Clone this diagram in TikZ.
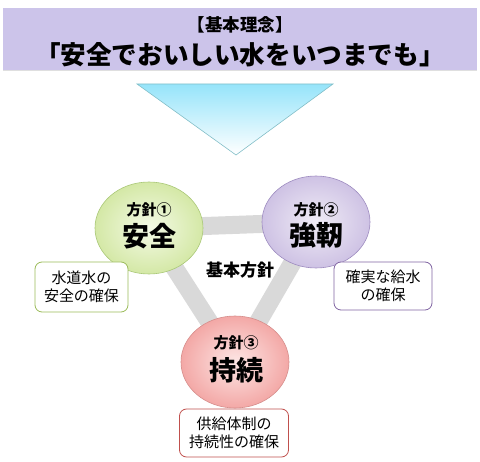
\documentclass[tikz,border=0pt]{standalone}
\usepackage{fontspec}
\newfontfamily\jpfont{Noto Sans CJK JP}
\usetikzlibrary{shapes.geometric,positioning,backgrounds,shadows}

\definecolor{bannerfill}{RGB}{204,196,234}
\definecolor{arrowtop}{RGB}{150,228,250}
\definecolor{arrowline}{RGB}{130,190,200}
\definecolor{bandgray}{RGB}{217,217,217}
\definecolor{greenin}{RGB}{244,250,230}
\definecolor{greenout}{RGB}{212,232,166}
\definecolor{greenline}{RGB}{170,200,120}
\definecolor{purplein}{RGB}{240,236,246}
\definecolor{purpleout}{RGB}{206,194,228}
\definecolor{purpleline}{RGB}{158,140,192}
\definecolor{redin}{RGB}{253,230,229}
\definecolor{redout}{RGB}{243,168,166}
\definecolor{redline}{RGB}{214,142,140}
\definecolor{greenbox}{RGB}{155,187,89}
\definecolor{purplebox}{RGB}{128,100,162}
\definecolor{redbox}{RGB}{192,80,77}

\tikzset{
  policy/.style={ellipse,minimum width=108,minimum height=92,inner sep=0pt,
    line width=0.6pt,shading=radial},
  ptitle/.style={font=\jpfont\bfseries\fontsize{15}{17}\selectfont,inner sep=0pt},
  pname/.style={font=\jpfont\bfseries\fontsize{27}{30}\selectfont,inner sep=0pt},
  goalbox/.style={draw,rounded corners=7pt,line width=0.8pt,fill=white,align=center,
    inner sep=0pt,font=\jpfont\fontsize{15}{18}\selectfont},
  band/.style={line width=18pt,bandgray}
}

\begin{document}
\begin{tikzpicture}[x=1pt,y=-1pt]
  \useasboundingbox (0,0) rectangle (480,462);
  % basic idea banner
  \node[fill=bannerfill,minimum width=474,minimum height=62,inner sep=0pt,
    drop shadow={shadow xshift=0pt,shadow yshift=-1.5pt,opacity=0.25}] (motto) at (240,39) {};
  \node[font=\jpfont\bfseries\fontsize{17.5}{20}\selectfont,inner sep=0pt] (motto-head) at (240,25) {【基本理念】};
  \node[font=\jpfont\bfseries\fontsize{25.6}{30}\selectfont,inner sep=0pt] (motto-text) at (240,55) {「安全でおいしい水をいつまでも」};
  % down arrow
  \shade[top color=arrowtop,bottom color=white,draw=arrowline,line width=0.6pt]
    (137,84) -- (333,84) -- (236,155) -- cycle;
  % three policies
  \node[policy,draw=greenline,inner color=greenin,outer color=greenout] (safe) at (149,228) {};
  \node[policy,draw=purpleline,inner color=purplein,outer color=purpleout] (strong) at (316,222) {};
  \node[policy,draw=redline,inner color=redin,outer color=redout] (sustain) at (235,362) {};
  \node[ptitle] (safe-no) at (149,210) {方針①};
  \node[pname] (safe-name) at (149,236) {安全};
  \node[ptitle] (strong-no) at (316,210) {方針②};
  \node[pname] (strong-name) at (316,235) {強靭};
  \node[ptitle] (sustain-no) at (236,343) {方針③};
  \node[pname] (sustain-name) at (236,370) {持続};
  \node[font=\jpfont\bfseries\fontsize{17}{20}\selectfont,inner sep=0pt] (core) at (240,270) {基本方針};
  % gray band behind the circles
  \begin{scope}[on background layer]
    \draw[band] (safe.center) -- (strong.center) -- (sustain.center) -- cycle;
  \end{scope}
  % goals
  \node[goalbox,draw=greenbox,minimum width=93,minimum height=50] (safe-goal) at (81.5,287) {水道水の\\安全の確保};
  \node[goalbox,draw=purplebox,minimum width=98,minimum height=48] (strong-goal) at (383,286) {確実な給水\\の確保};
  \node[goalbox,draw=redbox,minimum width=109,minimum height=48] (sustain-goal) at (234,433) {供給体制の\\持続性の確保};
\end{tikzpicture}
\end{document}
